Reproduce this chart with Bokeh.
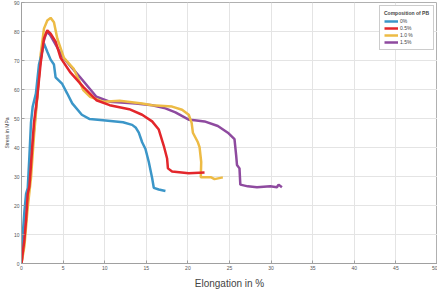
from bokeh.plotting import figure
from bokeh.models import Range1d, Legend, LegendItem, FixedTicker
from bokeh.embed import file_html
from bokeh.resources import INLINE

# Data
blue_x = [0, 0.15, 0.35, 0.55, 0.75, 0.95, 1.14, 1.34, 1.73, 2.1, 2.4, 2.7, 3.1, 3.5, 3.9, 4.1, 4.9, 5.5, 6.1, 7.25, 8.2, 9.8, 12.2, 13.3, 13.75, 14.1, 14.5, 14.9, 15.3, 15.7, 15.9, 16.5, 17.3]
blue_y = [0, 10, 18, 24, 26, 37, 48.5, 54, 58.6, 68.6, 72, 75.9, 73, 70.3, 68.6, 64.2, 61.9, 58.6, 55.2, 51.3, 49.8, 49.4, 48.7, 47.8, 46.8, 45.1, 41.8, 39.5, 35, 29.5, 26.1, 25.5, 25]

red_x = [0, 0.15, 0.35, 0.55, 0.75, 0.95, 1.14, 1.5, 1.9, 2.3, 2.7, 3.1, 3.5, 4.1, 4.7, 5.9, 7.45, 9, 10.6, 12.95, 14.5, 15.7, 16.5, 17.1, 17.5, 17.6, 18.1, 20.1, 22]
red_y = [0, 3.7, 8.2, 15, 24, 26.6, 34, 48.5, 57.5, 69, 77.6, 80.4, 79.3, 76.5, 70.9, 65.8, 60.8, 56.3, 54.6, 53.2, 51.3, 49, 46.2, 40.6, 36.2, 32.8, 31.7, 31.1, 31.4]

yellow_x = [0, 0.35, 0.75, 1.14, 1.5, 1.9, 2.3, 2.7, 3.1, 3.5, 3.9, 4.3, 5.1, 6.3, 7.45, 8.25, 9.8, 11.8, 14.5, 15.7, 18.1, 19.3, 20.1, 20.45, 20.6, 21.2, 21.4, 21.6, 21.55, 22.8, 23.2, 24.2]
yellow_y = [0, 6, 19.4, 29.5, 44, 57.5, 72, 81, 83.8, 84.7, 83.2, 77.6, 70.9, 67, 59.7, 57.5, 55.8, 56.1, 55.2, 54.6, 54.1, 53, 51.3, 48.5, 45.1, 41.8, 40.1, 35, 29.7, 29.7, 29.1, 29.7]

purple_x = [0, 0.2, 0.5, 0.9, 1.3, 1.8, 2.2, 2.6, 3.0, 3.4, 3.9, 4.9, 7.05, 9, 10.6, 13.75, 15.7, 17.3, 18.5, 20.1, 20.8, 22, 23.6, 24.8, 25.6, 25.8, 25.9, 26.2, 26.3, 27.2, 28.3, 29.9, 30.7, 30.9, 31.3]
purple_y = [0, 5, 14, 26, 40, 55, 68, 76, 79.8, 79, 76.5, 71.4, 64.2, 57.5, 55.8, 55.2, 54.6, 53.5, 52.1, 49.6, 49.4, 49, 47.4, 45.1, 42.9, 37.3, 34, 32.8, 27.2, 26.6, 26.3, 26.6, 26.3, 27.2, 26.3]

labels = ["0%", "0.5%", "1.0 %", "1.5%"]
x_ticks = [0, 5, 10, 15, 20, 25, 30, 35, 40, 45, 50]
y_ticks = [0, 10, 20, 30, 40, 50, 60, 70, 80, 90]

p = figure(width=437, height=291, output_backend="svg", toolbar_location=None,
           x_range=Range1d(0, 50), y_range=Range1d(0, 90),
           min_border_left=0, min_border_right=0, min_border_top=2, min_border_bottom=0)
p.background_fill_color = "white"
p.border_fill_color = "white"
p.outline_line_color = "#b0b0b0"

for ax in (p.xaxis, p.yaxis):
    ax.major_label_text_font_size = "5px"
    ax.major_label_text_color = "#555555"
    ax.axis_line_color = "#a0a0a0"
    ax.major_tick_line_color = "#a0a0a0"
    ax.major_tick_in = 3
    ax.major_tick_out = 0
    ax.minor_tick_line_color = None
    ax.major_label_standoff = 2
    ax.axis_label_text_font_style = "normal"
    ax.axis_label_text_color = "#444444"
    ax.axis_label_text_font = "Liberation Sans"
    ax.major_label_text_font = "Liberation Sans"

p.xaxis.ticker = FixedTicker(ticks=x_ticks)
p.yaxis.ticker = FixedTicker(ticks=y_ticks)
p.xaxis.axis_label = "Elongation in %"
p.xaxis.axis_label_text_font_size = "10px"
p.xaxis.axis_label_standoff = 5
p.yaxis.axis_label = "Stress in MPa"
p.yaxis.axis_label_text_font_size = "5px"
p.yaxis.axis_label_standoff = 1

p.xgrid.ticker = FixedTicker(ticks=x_ticks)
p.ygrid.ticker = FixedTicker(ticks=y_ticks)
p.grid.grid_line_color = "#e4e4e4"
p.grid.grid_line_width = 1

lw = 2.5
r_purple = p.line(purple_x, purple_y, line_color="#8e4a9f", line_width=lw)
r_yellow = p.line(yellow_x, yellow_y, line_color="#edbb45", line_width=lw)
r_blue = p.line(blue_x, blue_y, line_color="#3b96c8", line_width=lw)
r_red = p.line(red_x, red_y, line_color="#e3262b", line_width=lw)

legend = Legend(items=[LegendItem(label=labels[0], renderers=[r_blue]),
                       LegendItem(label=labels[1], renderers=[r_red]),
                       LegendItem(label=labels[2], renderers=[r_yellow]),
                       LegendItem(label=labels[3], renderers=[r_purple])],
                location="top_right")
legend.title = "Composition of PB"
legend.title_text_font_size = "5px"
legend.title_text_font_style = "bold"
legend.title_standoff = 2
legend.label_text_font_size = "5px"
legend.label_height = 6
legend.glyph_height = 6
legend.glyph_width = 14
legend.label_standoff = 2
legend.spacing = 1
legend.padding = 4
legend.margin = 3
legend.border_line_color = "#999999"
legend.background_fill_alpha = 1
p.add_layout(legend)

open("out.html", "w").write(file_html(p, INLINE))
